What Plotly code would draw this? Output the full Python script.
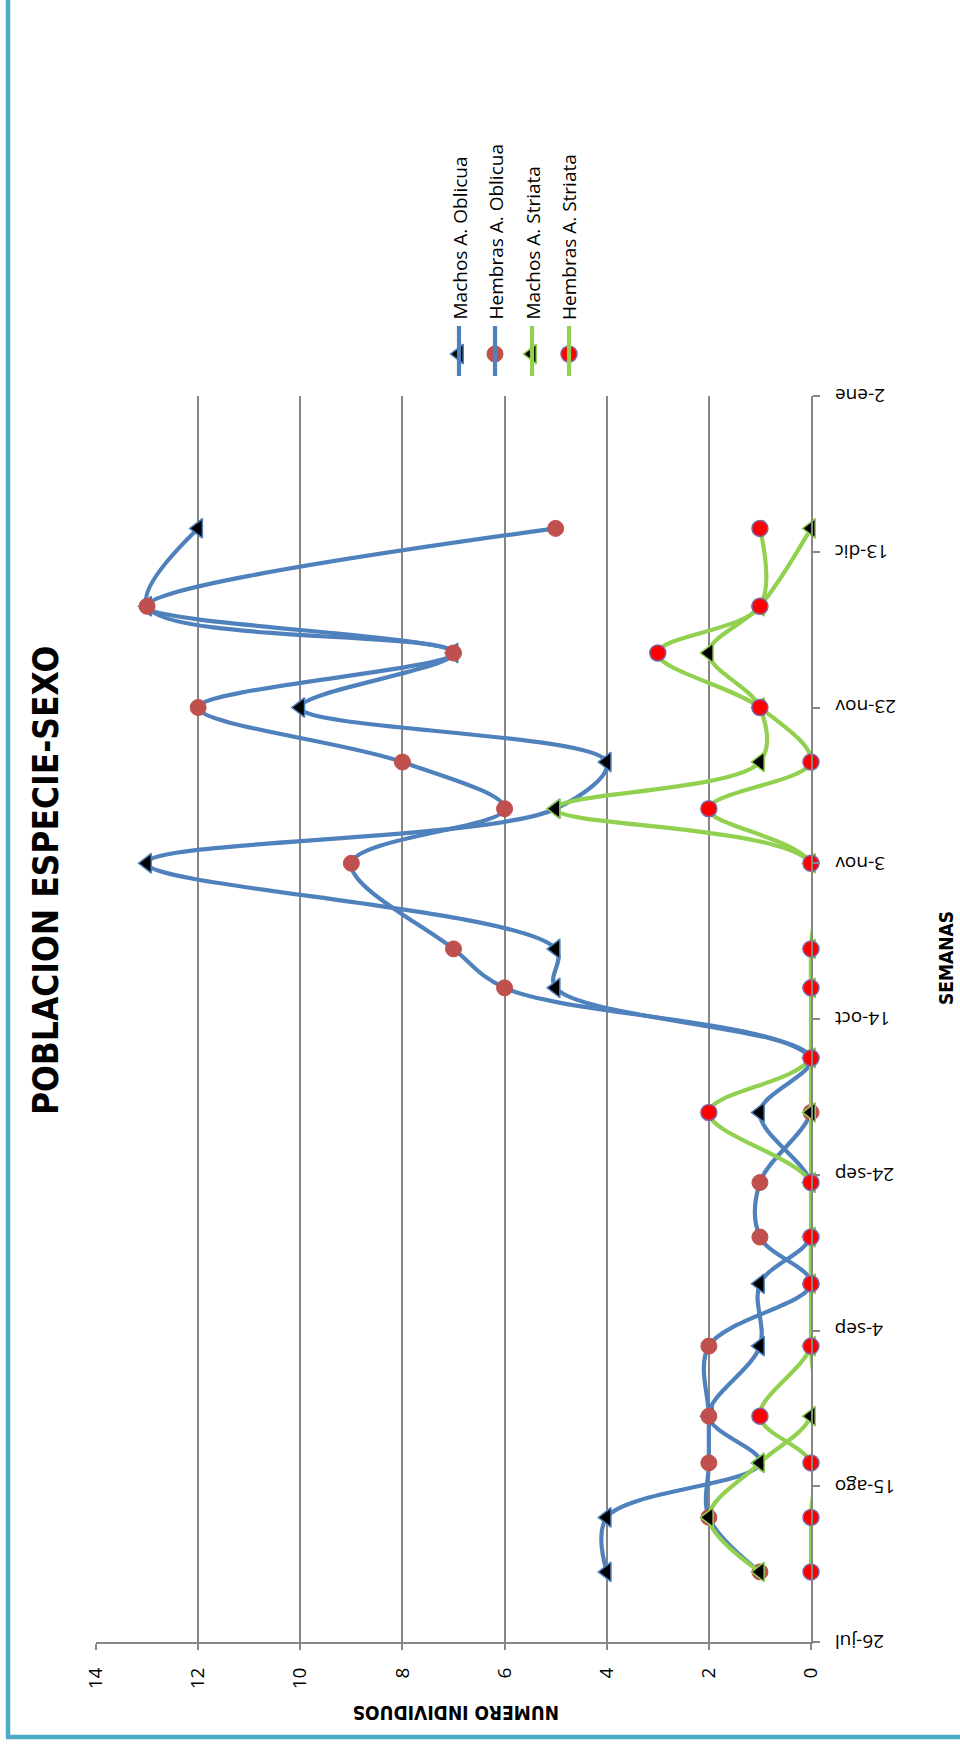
import plotly.graph_objects as go

# ---------------- data ----------------
fechas = ["2012-08-04", "2012-08-11", "2012-08-18", "2012-08-24", "2012-09-02",
          "2012-09-10", "2012-09-16", "2012-09-23", "2012-10-02", "2012-10-09",
          "2012-10-18", "2012-10-23", "2012-11-03", "2012-11-10", "2012-11-16",
          "2012-11-23", "2012-11-30", "2012-12-06", "2012-12-16"]
machos_oblicua = [4, 4, 1, 2, 1, 1, 0, 0, 1, 0, 5, 5, 13, 5, 4, 10, 7, 13, 12]
hembras_oblicua = [1, 2, 2, 2, 2, 0, 1, 1, 0, 0, 6, 7, 9, 6, 8, 12, 7, 13, 5]
machos_striata = [1, 2, 1, 0, 0, 0, 0, 0, 0, 0, 0, 0, 0, 5, 1, 1, 2, 1, 0]
hembras_striata = [0, 0, 0, 1, 0, 0, 0, 0, 2, 0, 0, 0, 0, 2, 0, 1, 3, 1, 1]

tick_fechas = ["2012-07-26", "2012-08-15", "2012-09-04", "2012-09-24", "2012-10-14",
               "2012-11-03", "2012-11-23", "2012-12-13", "2013-01-02"]
tick_etiquetas = ["26-jul", "15-ago", "4-sep", "24-sep", "14-oct",
                  "3-nov", "23-nov", "13-dic", "2-ene"]

nombres = ["Machos A. Oblicua", "Hembras A. Oblicua", "Machos A. Striata", "Hembras A. Striata"]

# ---------------- styles ----------------
W, H = 960, 1747
BLUE = "#4F81BD"
GREEN = "#92D050"
BROWN = "#C0504D"
RED = "#FF0000"
PURPLE = "#8064A2"
GRID = "#868686"
BORDER = "#4BACC6"
FONT = "Open Sans"
NARROW = "Liberation Sans Narrow, DejaVu Sans Condensed, sans-serif"
LW = 4.2

series = [
    (machos_oblicua, BLUE, dict(symbol="triangle-left", color="black", size=17,
                                line=dict(color=BLUE, width=1.5))),
    (hembras_oblicua, BLUE, dict(symbol="circle", color=BROWN, size=16,
                                 line=dict(color=BROWN, width=1))),
    (machos_striata, GREEN, dict(symbol="triangle-left", color="black", size=17,
                                 line=dict(color=GREEN, width=1.5))),
    (hembras_striata, GREEN, dict(symbol="circle", color=RED, size=16,
                                  line=dict(color=PURPLE, width=1.5))),
]

def px(x):
    return x / W

def py(y):
    return 1 - y / H

fig = go.Figure()
for vals, lc, mk in series:
    fig.add_trace(go.Scatter(
        x=vals, y=fechas, mode="lines+markers",
        line=dict(color=lc, width=LW, shape="spline", smoothing=1.0),
        marker=mk, cliponaxis=False, showlegend=False,
        xaxis="x", yaxis="y"))

# ---------------- legend (rotated, drawn manually) ----------------
leg_x = [459, 495, 532, 569]
leg_line = (326, 376)
leg_mark_y = 354
for i, (vals, lc, mk) in enumerate(series):
    fig.add_shape(type="line", xref="paper", yref="paper",
                  x0=px(leg_x[i]), x1=px(leg_x[i]),
                  y0=py(leg_line[0]), y1=py(leg_line[1]),
                  line=dict(color=lc, width=LW))
    fig.add_trace(go.Scatter(
        x=[leg_x[i]], y=[leg_mark_y], mode="markers", marker=mk,
        xaxis="x2", yaxis="y2", showlegend=False, hoverinfo="skip"))
    fig.add_annotation(text=nombres[i], xref="paper", yref="paper",
                       x=px(leg_x[i]), y=py(322), xanchor="center", yanchor="bottom",
                       textangle=-90, showarrow=False,
                       font=dict(family=FONT, size=19, color="black"))

# ---------------- date tick labels (upside down) ----------------
for f, t in zip(tick_fechas, tick_etiquetas):
    fig.add_annotation(text=t, xref="paper", yref="y", x=px(833), y=f,
                       xanchor="left", yanchor="middle", textangle=180,
                       showarrow=False, font=dict(family=FONT, size=19, color="black"))

# ---------------- titles ----------------
fig.add_annotation(text="<b>POBLACION ESPECIE-SEXO</b>", xref="paper", yref="paper",
                   x=px(46), y=py(881), xanchor="center", yanchor="middle",
                   textangle=-90, showarrow=False,
                   font=dict(family=NARROW, size=35, color="black"))
fig.add_annotation(text="<b>SEMANAS</b>", xref="paper", yref="paper",
                   x=px(946), y=py(958), xanchor="center", yanchor="middle",
                   textangle=-90, showarrow=False,
                   font=dict(family=NARROW, size=19, color="black"))
fig.add_annotation(text="<b>NUMERO INDIVIDUOS</b>", xref="paper", yref="paper",
                   x=px(456), y=py(1713), xanchor="center", yanchor="middle",
                   textangle=180, showarrow=False,
                   font=dict(family=NARROW, size=19, color="black"))

# ---------------- border ----------------
fig.add_shape(type="line", xref="paper", yref="paper", x0=px(8), x1=px(8),
              y0=1.0, y1=py(1737), line=dict(color=BORDER, width=4.5))
fig.add_shape(type="line", xref="paper", yref="paper", x0=px(6), x1=1.0,
              y0=py(1737), y1=py(1737), line=dict(color=BORDER, width=4.5))

fig.update_layout(
    width=W, height=H, margin=dict(l=0, r=0, t=0, b=0, autoexpand=False),
    paper_bgcolor="white", plot_bgcolor="rgba(0,0,0,0)",
    xaxis=dict(domain=[px(96), px(811)], range=[14, 0], dtick=2, tick0=0,
               showgrid=True, gridcolor=GRID, gridwidth=1.5, zeroline=False,
               showline=True, linecolor=GRID, linewidth=2,
               ticks="outside", ticklen=6, tickcolor=GRID, tickwidth=1.5,
               tickangle=-90, ticklabelstandoff=10, automargin=False,
               tickfont=dict(family=FONT, size=19, color="black"),
               anchor="y"),
    yaxis=dict(domain=[py(1642), py(396)], type="date",
               range=[tick_fechas[0], tick_fechas[-1]],
               side="right", showgrid=False, zeroline=False,
               showline=True, linecolor=GRID, linewidth=2,
               ticks="outside", ticklen=7, tickcolor=GRID, tickwidth=1.5,
               tickvals=tick_fechas, showticklabels=False, anchor="x",
               automargin=False),
    xaxis2=dict(domain=[0, 1], range=[0, W], visible=False, anchor="y2",
                automargin=False),
    yaxis2=dict(domain=[0, 1], range=[H, 0], visible=False, anchor="x2",
                automargin=False),
)

fig.write_html("out.html",
               config={"displayModeBar": False},
               post_script="document.body.style.margin='0';"
                           "document.body.style.overflow='hidden';")
